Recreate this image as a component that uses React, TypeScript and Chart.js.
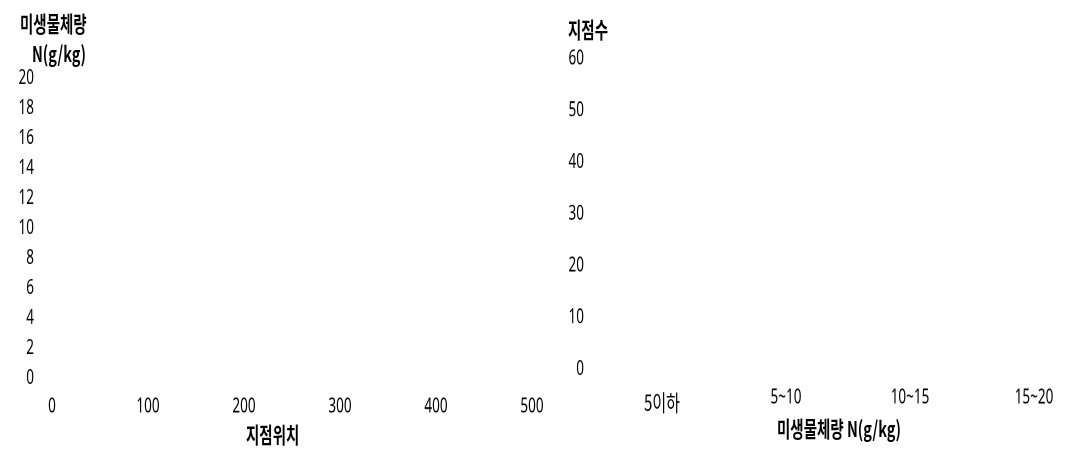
import React, { useEffect, useRef } from 'react';
import { Chart, registerables } from 'chart.js';

Chart.register(...registerables);

// 왼쪽: 지점위치별 미생물체량 (표시된 점 없음)
const biomassPoints: { x: number; y: number }[] = [];
const positionTicks = [0, 100, 200, 300, 400, 500];
const biomassTicks = [0, 2, 4, 6, 8, 10, 12, 14, 16, 18, 20];

// 오른쪽: 미생물체량 구간별 지점수 (표시된 막대 없음)
const biomassClasses = ['5이하', '5~10', '10~15', '15~20'];
const siteCounts: (number | null)[] = [null, null, null, null];
const countTicks = [0, 10, 20, 30, 40, 50, 60];

const NUM_FONT = '"Noto Sans", "Open Sans", sans-serif';
const KR_FONT = '"Noto Sans CJK KR", "Noto Sans", sans-serif';

// the reference text is tall and narrow, so the whole drawing is stretched vertically
const STRETCH = 1.5;

const App: React.FC = () => {
  const leftRef = useRef<HTMLCanvasElement>(null);
  const rightRef = useRef<HTMLCanvasElement>(null);
  const charts = useRef<{ left?: Chart; right?: Chart }>({});

  useEffect(() => {
    const noPad = (s: any) => {
      s.paddingTop = 0;
      s.paddingBottom = 0;
    };

    if (leftRef.current) {
      charts.current.left = new Chart(leftRef.current, {
        type: 'scatter',
        data: {
          datasets: [{ data: biomassPoints, backgroundColor: '#4472c4', pointRadius: 3 }]
        },
        options: {
          animation: false,
          devicePixelRatio: 2,
          responsive: true,
          maintainAspectRatio: false,
          layout: { padding: { top: 52, right: 28, left: 0, bottom: 0 } },
          plugins: { legend: { display: false }, tooltip: { enabled: false } },
          scales: {
            x: {
              type: 'linear',
              min: positionTicks[0],
              max: positionTicks[positionTicks.length - 1],
              afterBuildTicks: (s: any) => { s.ticks = positionTicks.map((v) => ({ value: v })); },
              afterFit: (s: any) => { s.height = 48; },
              grid: { display: false, drawTicks: false },
              border: { display: false },
              ticks: { color: '#000', padding: 11, maxRotation: 0, autoSkip: false, font: { family: NUM_FONT, size: 13.5 } }
            },
            y: {
              min: biomassTicks[0],
              max: biomassTicks[biomassTicks.length - 1],
              afterBuildTicks: (s: any) => { s.ticks = biomassTicks.map((v) => ({ value: v })); },
              afterFit: (s: any) => { s.width = 52; noPad(s); },
              grid: { display: false, drawTicks: false },
              border: { display: false },
              ticks: { color: '#000', padding: 18, autoSkip: false, font: { family: NUM_FONT, size: 13.5 } }
            }
          }
        }
      });
    }

    if (rightRef.current) {
      charts.current.right = new Chart(rightRef.current, {
        type: 'bar',
        data: {
          labels: biomassClasses,
          datasets: [{ data: siteCounts, backgroundColor: '#4472c4' }]
        },
        options: {
          animation: false,
          devicePixelRatio: 2,
          responsive: true,
          maintainAspectRatio: false,
          layout: { padding: { top: 39, right: 44, left: 0, bottom: 0 } },
          plugins: { legend: { display: false }, tooltip: { enabled: false } },
          scales: {
            x: {
              offset: false,
              afterFit: (s: any) => { s.height = 54; },
              grid: { display: false, drawTicks: false },
              border: { display: false },
              ticks: {
                color: '#000',
                padding: 11,
                maxRotation: 0,
                autoSkip: false,
                font: (ctx: any) =>
                  ctx.index === 0
                    ? { family: KR_FONT, size: 15, lineHeight: '23px' }
                    : { family: NUM_FONT, size: 13.5 }
              }
            },
            y: {
              min: countTicks[0],
              max: countTicks[countTicks.length - 1],
              afterBuildTicks: (s: any) => { s.ticks = countTicks.map((v) => ({ value: v })); },
              afterFit: (s: any) => { s.width = 117; noPad(s); },
              grid: { display: false, drawTicks: false },
              border: { display: false },
              ticks: { color: '#000', padding: 78, autoSkip: false, font: { family: NUM_FONT, size: 13.5 } }
            }
          }
        }
      });
    }

    return () => {
      charts.current.left?.destroy();
      charts.current.right?.destroy();
      charts.current = {};
    };
  }, []);

  const titleStyle: React.CSSProperties = {
    position: 'absolute',
    fontFamily: KR_FONT,
    fontWeight: 'bold',
    fontSize: 14.5,
    color: '#000',
    whiteSpace: 'nowrap',
    lineHeight: 1
  };

  return (
    <div
      style={{
        position: 'absolute',
        top: 0,
        left: 0,
        width: 1078,
        height: 450 / STRETCH,
        background: '#fff',
        overflow: 'hidden',
        transform: `scaleY(${STRETCH})`,
        transformOrigin: 'top left'
      }}
    >
      <div style={{ position: 'absolute', left: 0, top: 0, width: 560, height: 450 / STRETCH }}>
        <canvas ref={leftRef}></canvas>
      </div>
      <div style={{ position: 'absolute', left: 545, top: 0, width: 533, height: 450 / STRETCH }}>
        <canvas ref={rightRef}></canvas>
      </div>
      <div style={{ ...titleStyle, left: 20, top: 7.5 }}>미생물체량</div>
      <div style={{ ...titleStyle, left: 32, top: 28 }}>N(g/kg)</div>
      <div style={{ ...titleStyle, left: 568, top: 12 }}>지점수</div>
      <div style={{ ...titleStyle, left: 246, top: 281.5 }}>지점위치</div>
      <div style={{ ...titleStyle, left: 777, top: 277.5 }}>미생물체량 N(g/kg)</div>
    </div>
  );
};

export default App;
